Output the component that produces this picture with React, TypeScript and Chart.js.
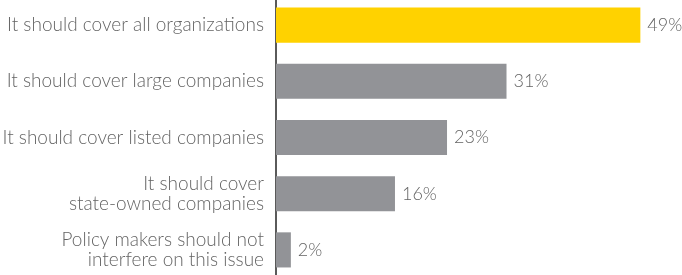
import React, { useEffect, useRef } from "react";
import { Chart, registerables } from "chart.js";

Chart.register(...registerables);

const categories: (string | string[])[] = [
  "It should cover all organizations",
  "It should cover large companies",
  "It should cover listed companies",
  ["It should cover", "state-owned companies"],
  ["Policy makers should not", "interfere on this issue"],
];
const values: number[] = [49, 31, 23, 16, 2];
const barColors: string[] = ["#FFD200", "#929397", "#929397", "#929397", "#929397"];

const FONT = "Lato, 'Open Sans', sans-serif";
const TEXT = "#646464";

const valueLabels = {
  id: "valueLabels",
  afterDatasetsDraw(chart: any) {
    const ctx = chart.ctx;
    const meta = chart.getDatasetMeta(0);
    ctx.save();
    ctx.font = `300 18px ${FONT}`;
    ctx.fillStyle = TEXT;
    ctx.textAlign = "left";
    ctx.textBaseline = "middle";
    meta.data.forEach((bar: any, i: number) => {
      ctx.fillText(values[i] + "%", bar.x + 7, bar.y);
    });
    ctx.restore();
  },
};

export default function App() {
  const ref = useRef<HTMLCanvasElement>(null);
  useEffect(() => {
    if (!ref.current) return;
    const chart = new Chart(ref.current, {
      type: "bar",
      data: {
        labels: categories,
        datasets: [
          {
            data: values,
            backgroundColor: barColors,
            borderWidth: 0,
            barPercentage: 0.625,
            categoryPercentage: 1,
          },
        ],
      },
      options: {
        indexAxis: "y",
        animation: false,
        responsive: false,
        layout: { padding: 0 },
        plugins: { legend: { display: false }, tooltip: { enabled: false } },
        scales: {
          x: { display: false, min: 0, max: 54.6 },
          y: {
            afterFit: (s: any) => {
              s.width = 276;
              s.paddingTop = 0;
              s.paddingBottom = 0;
            },
            grid: { display: false, drawTicks: false },
            border: { display: true, color: "#5a5a5a", width: 2 },
            ticks: {
              padding: 12,
              color: TEXT,
              font: { family: FONT, size: 19, weight: "300", lineHeight: 1.05 },
            },
          },
        },
      },
      plugins: [valueLabels],
    });
    return () => chart.destroy();
  }, []);
  return (
    <canvas
      ref={ref}
      width={682}
      height={281}
      style={{ position: "fixed", left: 0, top: -3, width: 682, height: 281 }}
    />
  );
}
